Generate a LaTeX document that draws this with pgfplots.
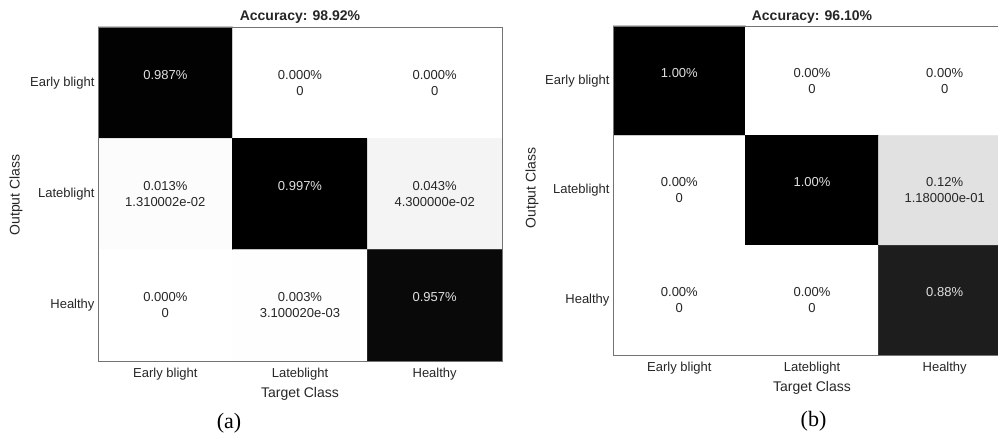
\documentclass[border=0pt]{standalone}
\usepackage{pgfplots}
\pgfplotsset{compat=1.18}
\usepackage{pgfplotstable}
\usepackage{fontspec}
\setmainfont{Liberation Sans}
\newfontfamily\capfont{Liberation Serif}

% ---- confusion matrix (a) ----
\pgfplotstableread{
x y v
0 0 0.987
1 0 0
2 0 0
0 1 0.0131
1 1 0.997
2 1 0.043
0 2 0
1 2 0.0031
2 2 0.957
}\cellsA
\pgfplotstableread{
x y v s
1 0 0 0
2 0 0 0
0 1 0.0131 1.310002e-02
2 1 0.043 4.300000e-02
0 2 0 0
1 2 0.0031 3.100020e-03
}\offA
\pgfplotstableread{
x y v
0 0 0.987
1 1 0.997
2 2 0.957
}\diagA

% ---- confusion matrix (b) ----
\pgfplotstableread{
x y v
0 0 1
1 0 0
2 0 0
0 1 0
1 1 1
2 1 0.118
0 2 0
1 2 0
2 2 0.88
}\cellsB
\pgfplotstableread{
x y v s
1 0 0 0
2 0 0 0
0 1 0 0
2 1 0.118 1.180000e-01
0 2 0 0
1 2 0 0
}\offB
\pgfplotstableread{
x y v
0 0 1
1 1 1
2 2 0.88
}\diagB

\pgfplotsset{
  cm/.style={
    scale only axis,
    xmin=-0.5, xmax=2.5, ymin=-0.5, ymax=2.5,
    y dir=reverse,
    xtick={0,1,2}, ytick={0,1,2},
    xticklabels={Early blight,Lateblight,Healthy},
    yticklabels={Early blight,Lateblight,Healthy},
    major tick length=0pt,
    axis line style={draw=black!55},
    axis on top,
    colormap={bw}{gray(0cm)=(1); gray(1cm)=(0)},
    point meta min=0, point meta max=1,
    tick label style={font=\fontsize{13}{15.6}\selectfont, text=black!85},
    xticklabel style={yshift=-3.5pt},
  },
  cells/.style={matrix plot*, mesh/cols=3, point meta=explicit},
  % off-diagonal cells: percentage on top, raw value below
  offlab/.style={
    only marks, mark=none, point meta=explicit symbolic,
    visualization depends on={\thisrow{v}\as\vval},
    nodes near coords={\pgfmathprintnumber[fixed,fixed zerofill,precision=#1,assume math mode=true]{\vval}\%\\\pgfplotspointmeta},
    every node near coord/.append style={anchor=center, align=center,
      font=\fontsize{13}{16}\selectfont, text=black!85},
  },
  % diagonal cells: percentage only, light text on dark fill
  diaglab/.style={
    only marks, mark=none, point meta=explicit,
    nodes near coords={\pgfmathprintnumber[fixed,fixed zerofill,precision=#1,assume math mode=true]{\pgfplotspointmeta}\%},
    every node near coord/.append style={anchor=center, yshift=8pt,
      font=\fontsize{13}{16}\selectfont, text=black!12},
  },
}

\begin{document}
\begin{tikzpicture}
\useasboundingbox (0,0) rectangle (998pt,436pt);
\clip (0,0) rectangle (998pt,436pt);

\begin{axis}[cm, at={(98pt,75pt)}, anchor=south west, width=404pt, height=334pt]
  \addplot[cells] table[meta=v] {\cellsA};
  \addplot[offlab=3] table[meta=s] {\offA};
  \addplot[diaglab=3] table[meta=v] {\diagA};
\end{axis}

\begin{axis}[cm, at={(613pt,81pt)}, anchor=south west, width=398pt, height=329pt]
  \addplot[cells] table[meta=v] {\cellsB};
  \addplot[offlab=2] table[meta=s] {\offB};
  \addplot[diaglab=2] table[meta=v] {\diagB};
\end{axis}

\begin{scope}[every node/.style={text=black!85}]
  \node[font=\bfseries\fontsize{14}{16}\selectfont] at (300pt,418.5pt) {Accuracy: 98.92\%};
  \node[font=\bfseries\fontsize{14}{16}\selectfont] at (812pt,418.5pt) {Accuracy: 96.10\%};
  \node[font=\fontsize{14}{16}\selectfont] at (300pt,42pt) {Target Class};
  \node[font=\fontsize{14}{16}\selectfont] at (812pt,48pt) {Target Class};
  \node[font=\fontsize{14}{16}\selectfont, rotate=90] at (16pt,241pt) {Output Class};
  \node[font=\fontsize{14}{16}\selectfont, rotate=90] at (532pt,248pt) {Output Class};
\end{scope}
\node[font=\capfont\fontsize{22}{24}\selectfont] at (229pt,13pt) {(a)};
\node[font=\capfont\fontsize{22}{24}\selectfont] at (813.5pt,15pt) {(b)};
\end{tikzpicture}
\end{document}
